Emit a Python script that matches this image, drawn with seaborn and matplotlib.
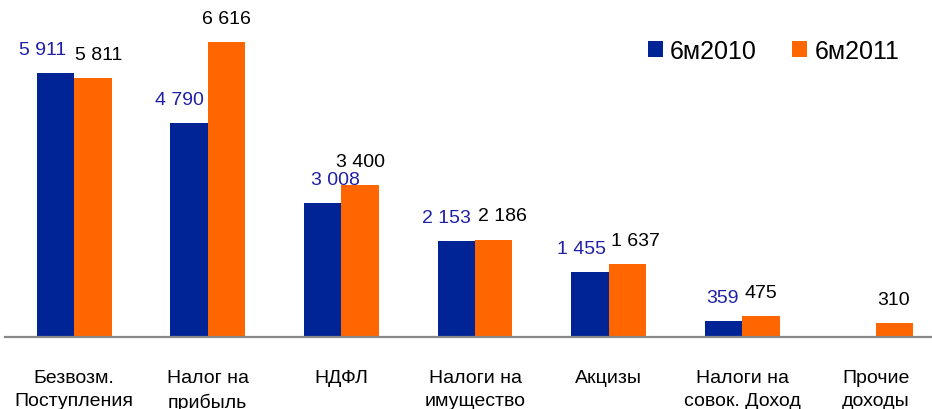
import numpy as np
import pandas as pd
import matplotlib
matplotlib.use("Agg")
import matplotlib.pyplot as plt
import seaborn as sns

categories = ["Безвозм.\nПоступления", "Налог на\nприбыль", "НДФЛ", "Налоги на\nимущество",
              "Акцизы", "Налоги на\nсовок. Доход", "Прочие\nдоходы"]
series = ["6м2010", "6м2011"]
vals_2010 = [5911, 4790, 3008, 2153, 1455, 359, np.nan]
vals_2011 = [5811, 6616, 3400, 2186, 1637, 475, 310]

bar_colors = ["#002395", "#FF6600"]
label_colors = ["#1F1FA8", "#000000"]
# horizontal nudges of the value labels (points), like the manual placement in the source
label_dx = [[-9, -7, 9, -7, -6, -1, 0],
            [4, 0, 0, 6, 6, 0, -1]]

df = pd.DataFrame({
    "cat": categories * 2,
    "period": [series[0]] * len(categories) + [series[1]] * len(categories),
    "value": vals_2010 + vals_2011,
})

sns.set_style("white")
plt.rcParams["font.family"] = ["Liberation Sans", "DejaVu Sans"]
plt.rcParams["text.color"] = "black"

fig = plt.figure(figsize=(9.32, 4.10), dpi=100)
ax = fig.add_axes([5 / 932, 72 / 410, 927 / 932, 338 / 410])

sns.barplot(data=df, x="cat", y="value", hue="period", order=categories,
            hue_order=series, palette=bar_colors, width=0.56, saturation=1,
            errorbar=None, linewidth=0, ax=ax)

for k, (cont, col) in enumerate(zip(ax.containers, label_colors)):
    for i, (bar, v) in enumerate(zip(cont.patches, cont.datavalues)):
        if np.isnan(v):
            continue
        ax.annotate(f"{v:,.0f}".replace(",", " "),
                    (bar.get_x() + bar.get_width() / 2, bar.get_height()),
                    xytext=(label_dx[k][i], 17), textcoords="offset points",
                    ha="center", va="center", color=col, fontsize=14)

ax.set_xlim(-0.517, 6.419)
ax.set_ylim(0, 7580)
ax.set_xlabel("")
ax.set_ylabel("")
ax.set_yticks([])
ax.tick_params(axis="x", length=0, pad=23, labelsize=14, labelcolor="black")
ax.set_xticks(range(len(categories)))
ax.set_xticklabels(categories, linespacing=1.5)
for s in ["top", "right", "left"]:
    ax.spines[s].set_visible(False)
ax.spines["bottom"].set_color("#888888")
ax.spines["bottom"].set_linewidth(1.6)

ax.legend(loc="center left", bbox_to_anchor=(0.669, 0.846), ncol=2, frameon=False,
          fontsize=18, handlelength=0.6, handleheight=0.6, handletextpad=0.3,
          columnspacing=1.4, labelcolor="black")

fig.savefig("out.png", dpi=100)
